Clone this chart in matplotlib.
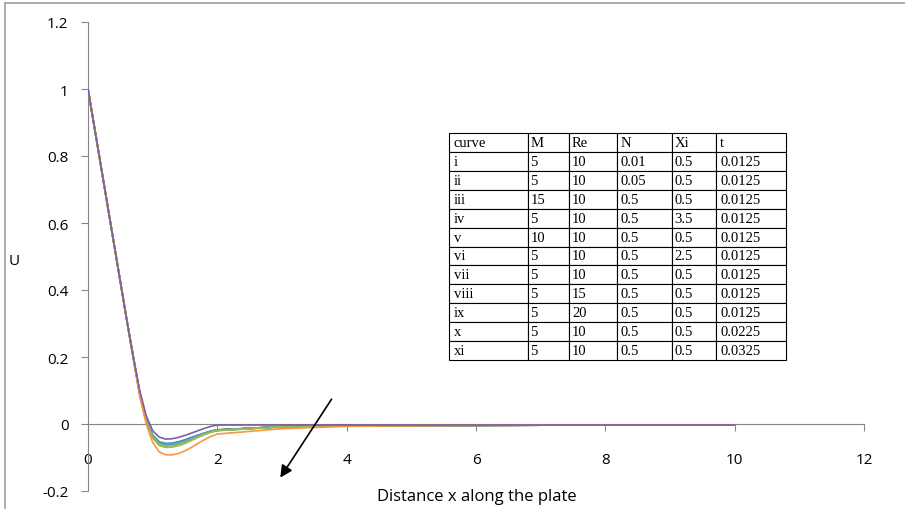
import matplotlib
matplotlib.use("Agg")
import matplotlib.pyplot as plt
from matplotlib.lines import Line2D

# ---- data ----
x = [0, 0.1, 0.2, 0.3, 0.4, 0.5, 0.6, 0.7, 0.8, 0.9, 1.0, 1.1, 1.2, 1.3, 1.4,
     1.5, 1.6, 1.7, 1.8, 1.9, 2.0, 3, 4, 5, 6, 8, 10]

u_i    = [1, 0.885, 0.77, 0.655, 0.54, 0.425, 0.31, 0.20, 0.092, 0.012, -0.033, -0.053, -0.058, -0.057, -0.053, -0.047, -0.040, -0.033, -0.027, -0.021, -0.017, -0.008, -0.005, -0.004, -0.004, -0.003, -0.003]
u_ii   = [1, 0.885, 0.77, 0.655, 0.54, 0.425, 0.31, 0.20, 0.091, 0.011, -0.035, -0.055, -0.060, -0.059, -0.055, -0.049, -0.042, -0.035, -0.028, -0.022, -0.018, -0.008, -0.005, -0.004, -0.004, -0.003, -0.003]
u_iii  = [1, 0.885, 0.77, 0.655, 0.54, 0.425, 0.31, 0.20, 0.090, 0.009, -0.039, -0.060, -0.066, -0.065, -0.061, -0.054, -0.046, -0.038, -0.030, -0.024, -0.019, -0.008, -0.005, -0.004, -0.004, -0.003, -0.003]
u_iv   = [1, 0.885, 0.77, 0.655, 0.54, 0.425, 0.31, 0.20, 0.100, 0.025, -0.020, -0.039, -0.045, -0.044, -0.040, -0.034, -0.027, -0.020, -0.013, -0.007, -0.003, -0.003, -0.003, -0.003, -0.003, -0.003, -0.003]
u_v    = [1, 0.885, 0.77, 0.655, 0.54, 0.425, 0.31, 0.20, 0.091, 0.010, -0.036, -0.056, -0.061, -0.060, -0.056, -0.050, -0.043, -0.035, -0.028, -0.022, -0.018, -0.008, -0.005, -0.004, -0.004, -0.003, -0.003]
u_vi   = [1, 0.885, 0.77, 0.655, 0.54, 0.425, 0.31, 0.20, 0.089, 0.007, -0.042, -0.064, -0.070, -0.069, -0.065, -0.058, -0.049, -0.040, -0.032, -0.025, -0.020, -0.009, -0.005, -0.004, -0.004, -0.003, -0.003]
u_vii  = [1, 0.885, 0.77, 0.655, 0.54, 0.425, 0.31, 0.20, 0.091, 0.011, -0.035, -0.055, -0.060, -0.059, -0.055, -0.049, -0.042, -0.035, -0.028, -0.022, -0.018, -0.008, -0.005, -0.004, -0.004, -0.003, -0.003]
u_viii = [1, 0.885, 0.77, 0.655, 0.54, 0.425, 0.31, 0.20, 0.090, 0.010, -0.037, -0.057, -0.062, -0.061, -0.057, -0.051, -0.044, -0.036, -0.029, -0.023, -0.018, -0.008, -0.005, -0.004, -0.004, -0.003, -0.003]
u_ix   = [1, 0.885, 0.77, 0.655, 0.54, 0.425, 0.31, 0.20, 0.090, 0.009, -0.038, -0.058, -0.064, -0.063, -0.059, -0.052, -0.045, -0.037, -0.030, -0.023, -0.019, -0.008, -0.005, -0.004, -0.004, -0.003, -0.003]
u_x    = [1, 0.885, 0.77, 0.655, 0.54, 0.425, 0.31, 0.20, 0.090, 0.009, -0.038, -0.059, -0.064, -0.063, -0.059, -0.053, -0.045, -0.037, -0.030, -0.023, -0.019, -0.008, -0.005, -0.004, -0.004, -0.003, -0.003]
u_xi   = [1, 0.885, 0.77, 0.655, 0.54, 0.425, 0.31, 0.195, 0.082, 0.000, -0.055, -0.083, -0.092, -0.092, -0.088, -0.080, -0.070, -0.058, -0.047, -0.037, -0.030, -0.014, -0.007, -0.005, -0.004, -0.003, -0.003]

series = [u_i, u_ii, u_iii, u_iv, u_v, u_vi, u_vii, u_viii, u_ix, u_x, u_xi]
colors = ["#4A7EBB", "#BE4B48", "#98B954", "#7D60A0", "#46AAC5", "#98B954",
          "#2C4D75", "#772C2A", "#5F7530", "#46AAC5", "#F79646"]

table_cols = ["curve", "M", "Re", "N", "Xi", "t"]
table_rows = [
    ["i", "5", "10", "0.01", "0.5", "0.0125"],
    ["ii", "5", "10", "0.05", "0.5", "0.0125"],
    ["iii", "15", "10", "0.5", "0.5", "0.0125"],
    ["iv", "5", "10", "0.5", "3.5", "0.0125"],
    ["v", "10", "10", "0.5", "0.5", "0.0125"],
    ["vi", "5", "10", "0.5", "2.5", "0.0125"],
    ["vii", "5", "10", "0.5", "0.5", "0.0125"],
    ["viii", "5", "15", "0.5", "0.5", "0.0125"],
    ["ix", "5", "20", "0.5", "0.5", "0.0125"],
    ["x", "5", "10", "0.5", "0.5", "0.0225"],
    ["xi", "5", "10", "0.5", "0.5", "0.0325"],
]

xticks = [0, 2, 4, 6, 8, 10, 12]
yticks = [-0.2, 0, 0.2, 0.4, 0.6, 0.8, 1, 1.2]
yticklabels = ["-0.2", "0", "0.2", "0.4", "0.6", "0.8", "1", "1.2"]

# ---- figure ----
plt.rcParams['font.family'] = ['Open Sans', 'DejaVu Sans']
W, H = 905, 510
fig = plt.figure(figsize=(W / 100, H / 100), dpi=100)
ax = fig.add_axes([88 / W, 1 - 492 / H, (864 - 88) / W, (492 - 23) / H])

order = [1, 6, 7, 8, 0, 9, 4, 2, 5, 10, 3]
for k in order:
    ax.plot(x, series[k], color=colors[k], lw=1.2, zorder=3)

ax.set_xlim(0, 12)
ax.set_ylim(-0.2, 1.2)
ax.set_xticks(xticks)
ax.set_xticklabels([str(v) for v in xticks])
ax.set_yticks(yticks)
ax.set_yticklabels(yticklabels)

axis_c = "#868686"
for s in ["top", "right"]:
    ax.spines[s].set_visible(False)
ax.spines["bottom"].set_position(("data", 0))
ax.spines["bottom"].set_color(axis_c)
ax.spines["left"].set_color(axis_c)
ax.spines["bottom"].set_zorder(1)
ax.tick_params(axis="x", direction="out", length=5, color=axis_c, pad=15,
               labelsize=11, labelcolor="#000000")
ax.tick_params(axis="y", direction="out", length=5, color=axis_c, pad=9,
               labelsize=11, labelcolor="#000000")

fig.text(14 / W, 1 - 262 / H, "U", fontsize=11, ha="center", va="center")
fig.text(477 / W, 1 - 497 / H, "Distance x along the plate", fontsize=12,
         ha="center", va="center")

# arrow
ax.annotate("", xy=(2.95, -0.167), xytext=(3.79, 0.081),
            arrowprops=dict(arrowstyle="-|>", color="black", lw=1.2,
                            mutation_scale=18), zorder=5)

# table
col_px = [79, 41, 48, 55, 44, 70]
tot = sum(col_px)
tab = ax.table(cellText=table_rows, colLabels=table_cols,
               colWidths=[c / tot * (337 / (864 - 88)) for c in col_px],
               cellLoc="left", colLoc="left",
               bbox=[(449 - 88) / (864 - 88), (492 - 361) / (492 - 23),
                     337 / (864 - 88), 227 / (492 - 23)])
tab.auto_set_font_size(False)
for (r, c), cell in tab.get_celld().items():
    cell.set_edgecolor("black")
    cell.set_linewidth(0.8)
    cell.set_facecolor("white")
    cell.PAD = 0.06
    cell.get_text().set_fontfamily("Liberation Serif")
    cell.get_text().set_fontsize(10.5)
tab.set_zorder(6)

# chart frame (top and left edges visible)
fig.add_artist(Line2D([5 / W, 1], [1 - 4 / H, 1 - 4 / H], color="#A0A0A0", lw=1.2))
fig.add_artist(Line2D([5 / W, 5 / W], [1 - 4 / H, 0], color="#A0A0A0", lw=1.2))

fig.savefig("out.png", dpi=100)
